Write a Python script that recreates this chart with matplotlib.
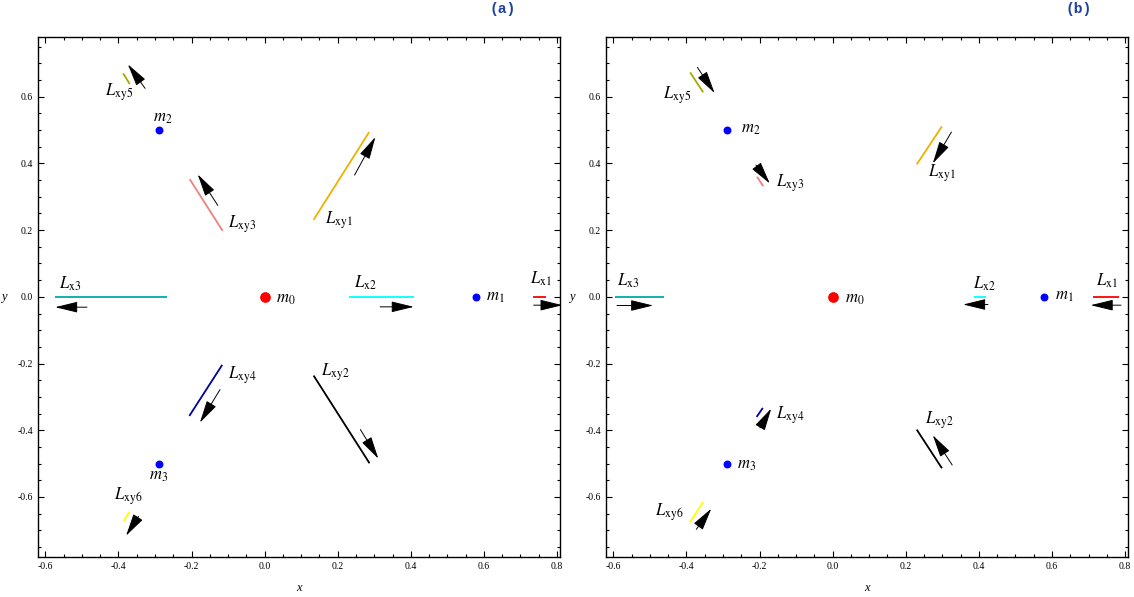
import matplotlib
matplotlib.use('Agg')
import matplotlib.pyplot as plt
from matplotlib.patches import FancyArrowPatch
from matplotlib.ticker import MultipleLocator

plt.rcParams['font.family'] = ['Liberation Serif', 'DejaVu Serif']
plt.rcParams['mathtext.fontset'] = 'stix'
plt.rcParams['axes.unicode_minus'] = False

# masses (same in both panels)
mass_names = ['m_0', 'm_1', 'm_2', 'm_3']
mass_x = [0.0, 0.577, -0.289, -0.289]
mass_y = [0.0, 0.0, 0.5, -0.5]

seg_names = ['x1', 'x2', 'x3', 'xy1', 'xy2', 'xy3', 'xy4', 'xy5', 'xy6']
seg_colors = ['#ff0000', '#00ffff', '#00aaaa', '#f0b000', '#000000',
              '#f08080', '#0000a0', '#aaaa00', '#ffff00']

# panel (a): segments (x0, y0, x1, y1)
a_segs = [(0.734, 0.0, 0.769, 0.0), (0.232, 0.0, 0.409, 0.0),
          (-0.573, 0.0, -0.267, 0.0), (0.134, 0.231, 0.286, 0.494),
          (0.134, -0.236, 0.287, -0.499), (-0.205, 0.353, -0.115, 0.198),
          (-0.206, -0.357, -0.116, -0.204), (-0.387, 0.670, -0.369, 0.638),
          (-0.386, -0.673, -0.370, -0.644)]
# panel (a): arrows (tail x, tail y, tip x, tip y)
a_arrows = [(0.736, -0.025, 0.815, -0.025), (0.316, -0.030, 0.408, -0.030),
            (-0.486, -0.031, -0.573, -0.031), (0.246, 0.365, 0.303, 0.479),
            (0.262, -0.398, 0.311, -0.485), (-0.128, 0.274, -0.183, 0.367),
            (-0.122, -0.278, -0.177, -0.377), (-0.327, 0.625, -0.374, 0.697),
            (-0.345, -0.658, -0.379, -0.716)]
a_seg_lbl = [(0.756, 0.053), (0.276, 0.043), (-0.533, 0.038), (0.202, 0.231),
             (0.192, -0.227), (-0.062, 0.218), (-0.060, -0.234),
             (-0.399, 0.615), (-0.374, -0.597)]
a_mass_lbl = [(0.058, -0.005), (0.630, 0.0), (-0.278, 0.537), (-0.291, -0.536)]

# panel (b)
b_segs = [(0.713, 0.0, 0.783, 0.0), (0.387, 0.0, 0.420, 0.0),
          (-0.595, 0.0, -0.461, 0.0), (0.230, 0.397, 0.299, 0.511),
          (0.230, -0.398, 0.299, -0.514), (-0.207, 0.360, -0.190, 0.332),
          (-0.208, -0.360, -0.191, -0.333), (-0.390, 0.673, -0.354, 0.613),
          (-0.390, -0.675, -0.354, -0.615)]
b_arrows = [(0.789, -0.025, 0.706, -0.025), (0.425, -0.023, 0.357, -0.023),
            (-0.590, -0.026, -0.491, -0.026), (0.325, 0.494, 0.274, 0.400),
            (0.327, -0.504, 0.274, -0.415), (-0.210, 0.395, -0.172, 0.340),
            (-0.199, -0.393, -0.168, -0.335), (-0.370, 0.688, -0.323, 0.611),
            (-0.373, -0.697, -0.332, -0.635)]
b_seg_lbl = [(0.750, 0.048), (0.414, 0.040), (-0.560, 0.048), (0.300, 0.370),
             (0.292, -0.370), (-0.117, 0.340), (-0.116, -0.355),
             (-0.425, 0.605), (-0.447, -0.646)]
b_mass_lbl = [(0.061, -0.005), (0.635, 0.003), (-0.225, 0.504), (-0.235, -0.504)]

fig = plt.figure(figsize=(11.34, 5.97), dpi=100)
ax_a = fig.add_axes([0.0335, 0.067, 0.4603, 0.871])
ax_b = fig.add_axes([0.5344, 0.067, 0.4603, 0.871])


def draw_panel(ax, segs, arrows, seg_lbl, mass_lbl):
    for (x0, y0, x1, y1), c in zip(segs, seg_colors):
        ax.plot([x0, x1], [y0, y1], color=c, lw=1.3, solid_capstyle='butt')
    for (x0, y0, x1, y1) in arrows:
        arr = FancyArrowPatch((x0, y0), (x1, y1),
                              arrowstyle='-|>,head_length=1.4,head_width=0.34',
                              mutation_scale=10, lw=0.7, color='k',
                              shrinkA=0, shrinkB=0, clip_on=False)
        ax.add_patch(arr)
    ax.scatter(mass_x[:1], mass_y[:1], s=45, color='#ff0000', zorder=3)
    ax.scatter(mass_x[1:], mass_y[1:], s=22, color='#0000ff', zorder=3)
    for name, (lx, ly) in zip(seg_names, seg_lbl):
        ax.text(lx, ly, r'$L_{\mathrm{%s}}$' % name, fontsize=12,
                ha='center', va='center')
    for name, (lx, ly) in zip(mass_names, mass_lbl):
        ax.text(lx, ly, r'$%s$' % name, fontsize=12, ha='center', va='center')

    ax.set_xlim(-0.62, 0.808)
    ax.set_ylim(-0.78, 0.779)
    ax.xaxis.set_major_locator(MultipleLocator(0.2))
    ax.xaxis.set_minor_locator(MultipleLocator(0.05))
    ax.yaxis.set_major_locator(MultipleLocator(0.2))
    ax.yaxis.set_minor_locator(MultipleLocator(0.05))
    ax.tick_params(which='both', direction='in', top=True, right=True,
                   labelsize=7, width=0.8)
    ax.tick_params(which='major', length=4)
    ax.tick_params(which='minor', length=2)
    ax.xaxis.set_major_formatter(plt.FormatStrFormatter('%.1f'))
    ax.yaxis.set_major_formatter(plt.FormatStrFormatter('%.1f'))
    for sp in ax.spines.values():
        sp.set_linewidth(1.0)
    ax.set_xlabel('x', fontstyle='italic', fontsize=9, labelpad=8)
    ax.set_ylabel('y', fontstyle='italic', fontsize=9, rotation=0, labelpad=10,
                  va='center')


draw_panel(ax_a, a_segs, a_arrows, a_seg_lbl, a_mass_lbl)
draw_panel(ax_b, b_segs, b_arrows, b_seg_lbl, b_mass_lbl)

fig.text(0.4436, 0.985, '(a)', family='Liberation Mono', weight='bold',
         color='#2040a0', fontsize=10.5, ha='center', va='center')
fig.text(0.9515, 0.985, '(b)', family='Liberation Mono', weight='bold',
         color='#2040a0', fontsize=10.5, ha='center', va='center')

fig.savefig('out.png', dpi=100)
